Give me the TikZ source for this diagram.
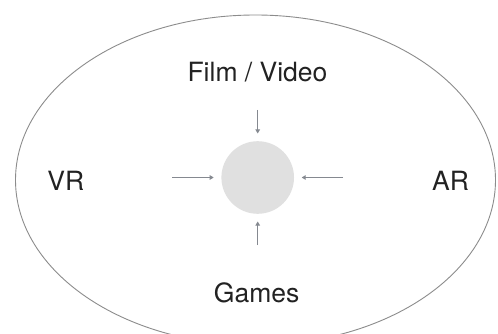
\documentclass[tikz,border=0pt]{standalone}
\usepackage{fontspec}
\setmainfont{TeX Gyre Heros}
\usetikzlibrary{arrows.meta}
\definecolor{rim}{HTML}{8C8C8C}
\definecolor{hubfill}{HTML}{E0E0E0}
\definecolor{pointer}{HTML}{858990}
\definecolor{ink}{HTML}{222222}

\begin{document}
\begin{tikzpicture}[x=1pt, y=-1pt,
  outline/.style={draw=rim, line width=0.9pt},
  hub/.style={circle, fill=hubfill, minimum size=72.6pt, inner sep=0pt},
  medium/.style={text=ink, font=\fontsize{26.5}{30}\selectfont, inner sep=0pt},
  feed/.style={draw=pointer, line width=1.2pt, shorten >=7.5pt,
    -{Triangle[length=4pt, width=4.5pt]}},
]
\useasboundingbox (0,0) rectangle (498,334);
\clip (0,0) rectangle (498,334);
\fill[white] (0,0) rectangle (498,334);

\draw[outline] (255.5,180) ellipse [x radius=240, y radius=165];

\node[hub] (core) at (257.7,177.5) {};

\node[medium] (film)  at (257.5,72)  {Film / Video};
\node[medium] (vr)    at (65.8,181)  {VR};
\node[medium] (ar)    at (450.5,181) {AR};
\node[medium] (games) at (256.7,293) {Games};

% free ends of the four pointers
\coordinate (fromvr)    at (172,177.5);
\coordinate (fromar)    at (343,177.5);
\coordinate (fromfilm)  at (257.7,110);
\coordinate (fromgames) at (257.7,245);

\draw[feed] (fromvr)    -- (core);
\draw[feed] (fromar)    -- (core);
\draw[feed] (fromfilm)  -- (core);
\draw[feed] (fromgames) -- (core);
\end{tikzpicture}
\end{document}
